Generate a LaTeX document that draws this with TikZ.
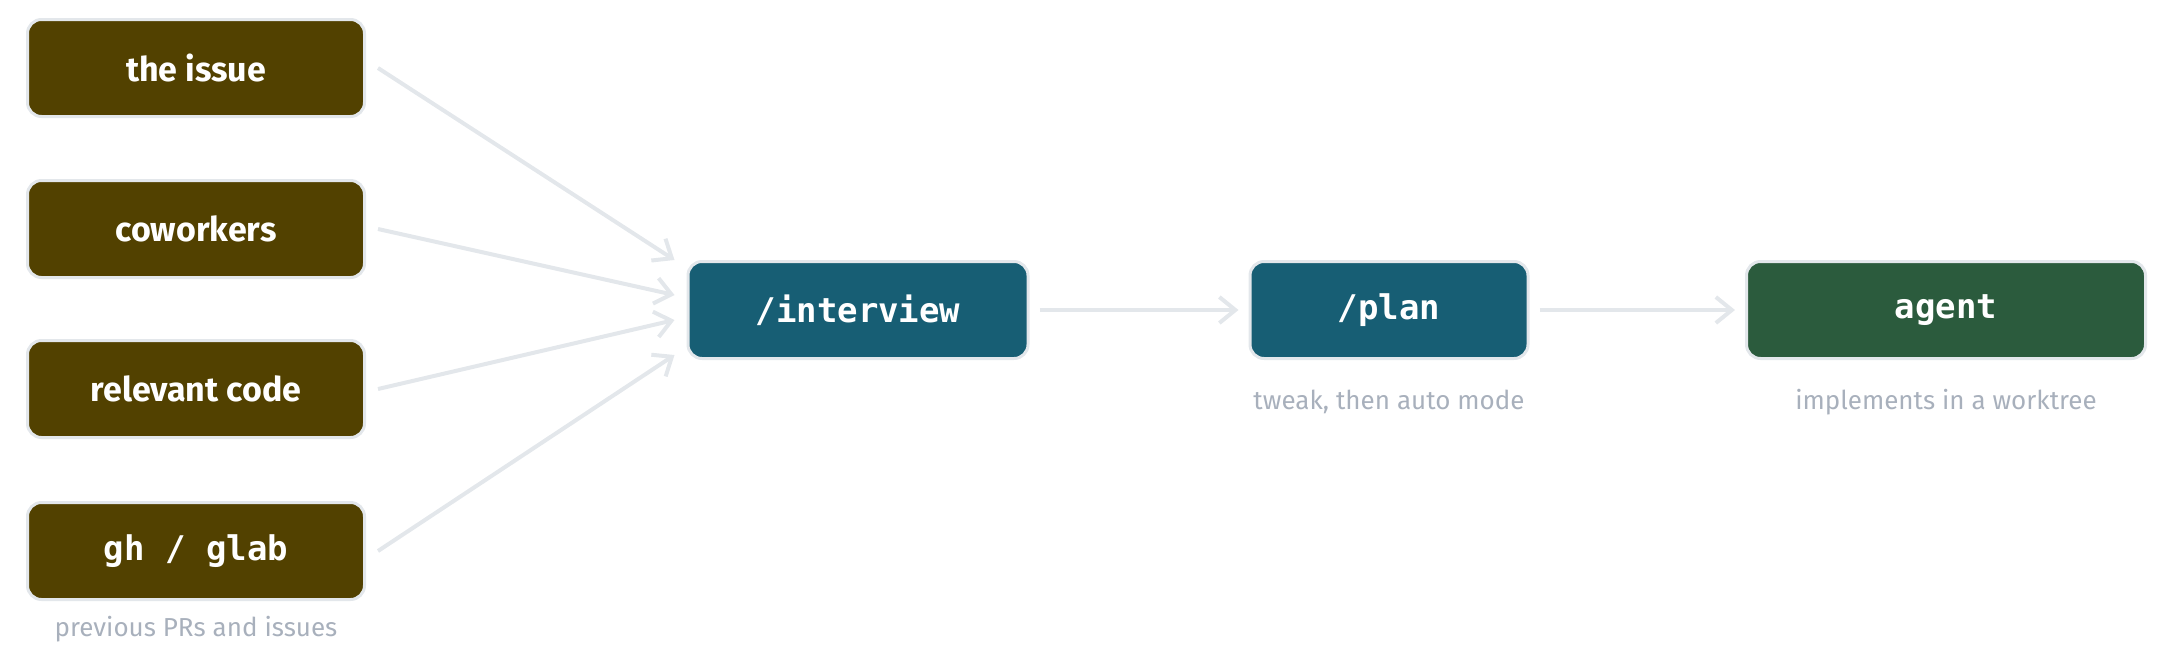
\documentclass[tikz,border=0pt]{standalone}
\usepackage{fontspec}
\setmainfont{Fira Sans}
\setmonofont{DejaVu Sans Mono}
\usetikzlibrary{positioning,arrows.meta}
\definecolor{srcbrown}{HTML}{524100}
\definecolor{stepblue}{HTML}{175E74}
\definecolor{agentgreen}{HTML}{2B5B3D}
\definecolor{edgegray}{HTML}{E3E7EB}
\definecolor{notegray}{HTML}{A8B0BC}

\begin{document}
\begin{tikzpicture}[x=1pt, y=-1pt,
  box/.style={draw=edgegray, line width=3pt, rounded corners=14pt, text=white, minimum height=97pt, font=\fontsize{34}{34}\selectfont\bfseries},
  src/.style={box, fill=srcbrown, minimum width=337pt},
  cmd/.style={box, fill=stepblue, font=\fontsize{34}{34}\selectfont\ttfamily\bfseries},
  flow/.style={draw=edgegray, line width=4pt, -{Straight Barb[length=16pt, width=26pt]}},
  note/.style={text=notegray, font=\fontsize{26}{26}\selectfont}]
\useasboundingbox (0,0) rectangle (2178,665);

\node[src] (issue) at (196,68) {the issue};
\node[src] (cowork) at (196,229) {coworkers};
\node[src] (code) at (196,389) {relevant code};
\node[src, font=\fontsize{34}{34}\selectfont\ttfamily\bfseries] (gh) at (196,551) {gh / glab};
\node[note, below=12pt of gh] (ghnote) {previous PRs and issues};

\node[cmd, minimum width=340pt] (interview) at (858,310) {/interview};
\node[cmd, minimum width=278pt] (plan) at (1389,310) {/plan};
\node[box, fill=agentgreen, minimum width=399pt, font=\fontsize{34}{34}\selectfont\ttfamily\bfseries] (agent) at (1946,310) {agent};
\node[note, below=26pt of plan] (plannote) {tweak, then auto mode};
\node[note, below=26pt of agent] (agentnote) {implements in a worktree};

\draw[flow] ([xshift=12pt]issue.east) -- ([xshift=-12pt, yshift=50pt]interview.west);
\draw[flow] ([xshift=12pt]cowork.east) -- ([xshift=-12pt, yshift=15pt]interview.west);
\draw[flow] ([xshift=12pt]code.east) -- ([xshift=-12pt, yshift=-10pt]interview.west);
\draw[flow] ([xshift=12pt]gh.east) -- ([xshift=-12pt, yshift=-45pt]interview.west);
\draw[flow] ([xshift=10pt]interview.east) -- ([xshift=-10pt]plan.west);
\draw[flow] ([xshift=10pt]plan.east) -- ([xshift=-10pt]agent.west);
\end{tikzpicture}
\end{document}
